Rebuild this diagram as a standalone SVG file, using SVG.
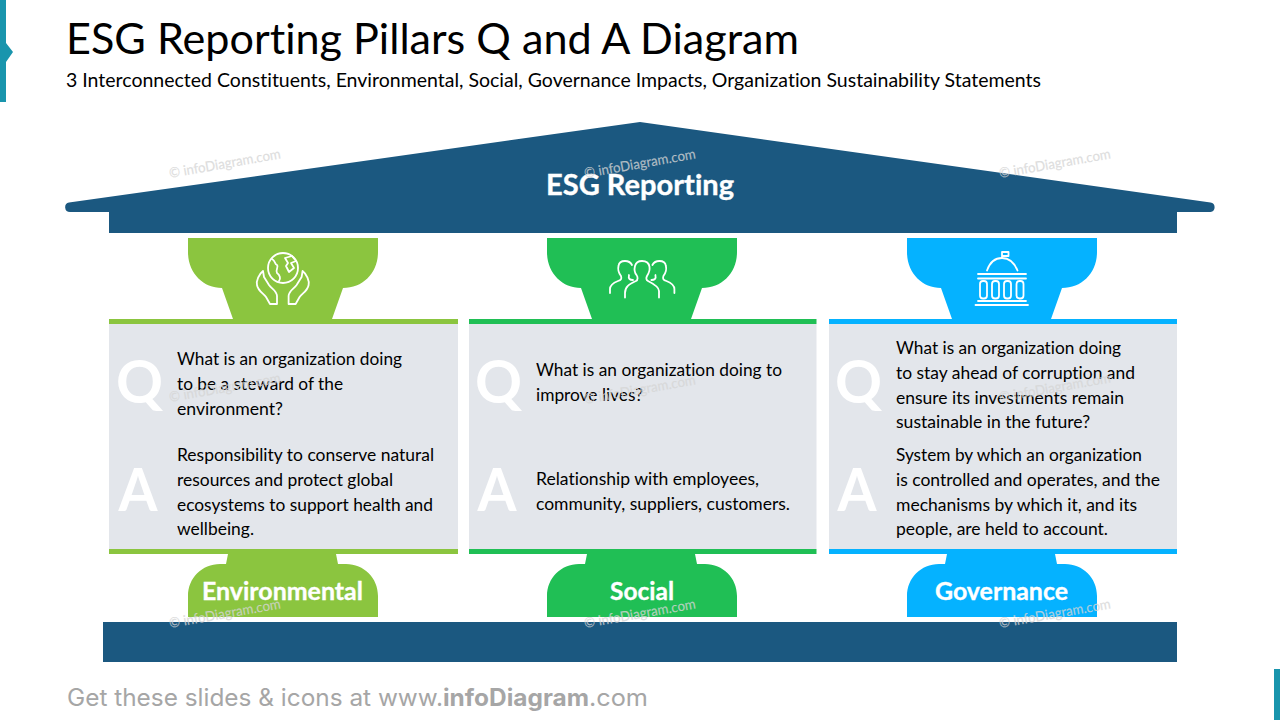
<svg xmlns="http://www.w3.org/2000/svg" width="1280" height="720" viewBox="0 0 1280 720">
<style>
text{font-family:"Lato","Liberation Sans",sans-serif;font-variant-ligatures:none}
.b{font-size:17px;fill:#000}
.l{font-size:60px;font-weight:700;fill:#fff}
.n{font-size:25px;font-weight:700;fill:#fff;stroke:#fff;stroke-width:.35}
.w{font-size:14px;fill:#d6d6d6;stroke:#d6d6d6;stroke-width:.15;opacity:.8}
.i{fill:none;stroke:#fff;stroke-width:1.8;stroke-linejoin:round;stroke-linecap:round}
.f{font-family:"Inter","Liberation Sans",sans-serif;font-size:24px;fill:#a6a6a6}
.g{fill:#8bc53f}.s{fill:#20bf55}.v{fill:#05b2ff}
.p{fill:#e3e6eb}
</style>
<defs>
<path id="cap" d="M188 238H378V252C378 273 363 288 343 288L332 319H233L222 288C203 288 188 273 188 252Z"/>
<path id="base" d="M228 554H336L338 564H346C364 564 378 578 378 596V617H188V596C188 578 202 564 220 564H226Z"/>
</defs>
<rect width="1280" height="720" fill="#fff"/>
<g id="accents" fill="#1995ad">
<path d="M0 0H6V43L13 52L6 62V102H0Z"/>
<rect x="1274" y="669" width="6" height="51"/>
</g>
<g id="title">
<text x="66" y="54" font-size="42" textLength="733" lengthAdjust="spacingAndGlyphs">ESG Reporting Pillars Q and A Diagram</text>
<text x="66" y="87" font-size="19" textLength="975" lengthAdjust="spacingAndGlyphs">3 Interconnected Constituents, Environmental, Social, Governance Impacts, Organization Sustainability Statements</text>
</g>
<g id="roof">
<path d="M640 122L1210.500 202.500A4.800 4.800 0 0 1 1210.500 212H1177V233H109V212H70A4.800 4.800 0 0 1 69 202.500Z" fill="#1b5880"/>
<text class="n" x="546" y="195" style="font-size:28px" textLength="188" lengthAdjust="spacingAndGlyphs">ESG Reporting</text>
</g>
<g id="foundation"><rect x="103" y="622" width="1074" height="40" fill="#1b5880"/></g>
<g id="pillar-environmental">
<use href="#cap" class="g"/>
<rect x="109" y="319" width="349" height="5" class="g"/>
<rect x="109" y="324" width="349" height="225" class="p"/>
<rect x="109" y="549" width="349" height="5" class="g"/>
<use href="#base" class="g"/>
<g class="i">
<circle cx="283" cy="268" r="15"/>
<path d="M272 259C276 261 274 264 277 265C279 267 275 270 277 273C280 275 281 279 279 281"/>
<path d="M285 258L292 256L296 261L291 263L294 268L289 272L286 266L288 263Z"/>
<path id="hand" d="M277 304V296C277 291 272 289 269 285L264 277L263 271C259 274 256 281 257 285C258 291 263 293 266 297L270 304Z"/>
<use href="#hand" transform="translate(565.600 0) scale(-1 1)"/>
</g>
<text x="116" y="403" class="l" textLength="47" lengthAdjust="spacingAndGlyphs">Q</text>
<text x="118.500" y="511" class="l" textLength="39" lengthAdjust="spacingAndGlyphs">A</text>
<text class="b" x="177" y="365" textLength="225" lengthAdjust="spacingAndGlyphs">What is an organization doing</text>
<text class="b" x="177" y="390" textLength="166" lengthAdjust="spacingAndGlyphs">to be a steward of the</text>
<text class="b" x="177" y="415" textLength="106" lengthAdjust="spacingAndGlyphs">environment?</text>
<text class="b" x="177" y="461" textLength="257" lengthAdjust="spacingAndGlyphs">Responsibility to conserve natural</text>
<text class="b" x="177" y="486" textLength="216" lengthAdjust="spacingAndGlyphs">resources and protect global</text>
<text class="b" x="177" y="511" textLength="256" lengthAdjust="spacingAndGlyphs">ecosystems to support health and</text>
<text class="b" x="177" y="535" textLength="77" lengthAdjust="spacingAndGlyphs">wellbeing.</text>
<text class="n" x="202" y="600" textLength="161" lengthAdjust="spacingAndGlyphs">Environmental</text>
</g>
<g id="pillar-social">
<use href="#cap" class="s" x="359"/>
<rect x="469" y="319" width="347.500" height="5" class="s"/>
<rect x="469" y="324" width="347.500" height="225" class="p"/>
<rect x="469" y="549" width="347.500" height="5" class="s"/>
<use href="#base" class="s" x="359"/>
<g class="i">
<path d="M625 297.500V293C625 286 630 284 636 281C638 280 638 277 636.500 275C634 272 634.500 268 635 266C636 262 639 261 642 261C646 261 649 263 649.500 267C650 270 649 273 647 276C646 278 646 280 648 281C654 284 659 287 659 291V297.500"/>
<path id="pl" d="M610 293V289C610 285 613 283 618 281C621 280 622 279 621 276C618 272 618 268 618.500 266C619 262 622 261 625 261C629 261 631 263 632 265M629 275C628 279 630 280 633 280"/>
<use href="#pl" transform="translate(1284.400 0) scale(-1 1)"/>
</g>
<text x="475" y="403" class="l" textLength="47" lengthAdjust="spacingAndGlyphs">Q</text>
<text x="477.500" y="511" class="l" textLength="39" lengthAdjust="spacingAndGlyphs">A</text>
<text class="b" x="536" y="376" textLength="246" lengthAdjust="spacingAndGlyphs">What is an organization doing to</text>
<text class="b" x="536" y="401" textLength="107" lengthAdjust="spacingAndGlyphs">improve lives?</text>
<text class="b" x="536" y="485" textLength="223" lengthAdjust="spacingAndGlyphs">Relationship with employees,</text>
<text class="b" x="536" y="510" textLength="254" lengthAdjust="spacingAndGlyphs">community, suppliers, customers.</text>
<text class="n" x="610" y="600" textLength="64" lengthAdjust="spacingAndGlyphs">Social</text>
</g>
<g id="pillar-governance">
<use href="#cap" class="v" x="719"/>
<rect x="829" y="319" width="348" height="5" class="v"/>
<rect x="829" y="324" width="348" height="225" class="p"/>
<rect x="829" y="549" width="348" height="5" class="v"/>
<use href="#base" class="v" x="719"/>
<g class="i">
<path d="M1002 258V252H1008.500V256H1002"/>
<path d="M987 270.500C990 262 996 258 1002 258C1008 258 1014 262 1017.500 270.500"/>
<path d="M978 274H1026M978 278.500H1026M978 301H1026M975.500 305H1028"/>
<rect x="980" y="281" width="7" height="17.500" rx="3"/>
<rect x="992" y="281" width="7" height="17.500" rx="3"/>
<rect x="1004" y="281" width="7" height="17.500" rx="3"/>
<rect x="1016.500" y="281" width="7" height="17.500" rx="3"/>
</g>
<text x="835" y="403" class="l" textLength="47" lengthAdjust="spacingAndGlyphs">Q</text>
<text x="837.500" y="511" class="l" textLength="39" lengthAdjust="spacingAndGlyphs">A</text>
<text class="b" x="896" y="354" textLength="225" lengthAdjust="spacingAndGlyphs">What is an organization doing</text>
<text class="b" x="896" y="379" textLength="239" lengthAdjust="spacingAndGlyphs">to stay ahead of corruption and</text>
<text class="b" x="896" y="404" textLength="228" lengthAdjust="spacingAndGlyphs">ensure its investments remain</text>
<text class="b" x="896" y="428" textLength="194" lengthAdjust="spacingAndGlyphs">sustainable in the future?</text>
<text class="b" x="896" y="461" textLength="246" lengthAdjust="spacingAndGlyphs">System by which an organization</text>
<text class="b" x="896" y="486" textLength="264" lengthAdjust="spacingAndGlyphs">is controlled and operates, and the</text>
<text class="b" x="896" y="511" textLength="241" lengthAdjust="spacingAndGlyphs">mechanisms by which it, and its</text>
<text class="b" x="896" y="535" textLength="212" lengthAdjust="spacingAndGlyphs">people, are held to account.</text>
<text class="n" x="935" y="600" textLength="133" lengthAdjust="spacingAndGlyphs">Governance</text>
</g>
<g id="watermarks">
<text class="w" transform="translate(170 178) rotate(-10)" textLength="113" lengthAdjust="spacingAndGlyphs">© infoDiagram.com</text>
<text class="w" transform="translate(585 178) rotate(-10)" textLength="113" lengthAdjust="spacingAndGlyphs">© infoDiagram.com</text>
<text class="w" transform="translate(1000 178) rotate(-10)" textLength="113" lengthAdjust="spacingAndGlyphs">© infoDiagram.com</text>
<text class="w" transform="translate(170 402) rotate(-10)" textLength="113" lengthAdjust="spacingAndGlyphs">© infoDiagram.com</text>
<text class="w" transform="translate(585 404) rotate(-10)" textLength="113" lengthAdjust="spacingAndGlyphs">© infoDiagram.com</text>
<text class="w" transform="translate(1000 402) rotate(-10)" textLength="113" lengthAdjust="spacingAndGlyphs">© infoDiagram.com</text>
<text class="w" transform="translate(170 628) rotate(-10)" textLength="113" lengthAdjust="spacingAndGlyphs">© infoDiagram.com</text>
<text class="w" transform="translate(585 628) rotate(-10)" textLength="113" lengthAdjust="spacingAndGlyphs">© infoDiagram.com</text>
<text class="w" transform="translate(1000 628) rotate(-10)" textLength="113" lengthAdjust="spacingAndGlyphs">© infoDiagram.com</text>
</g>
<g id="footer">
<text class="f" x="67" y="706" textLength="376" lengthAdjust="spacingAndGlyphs">Get these slides &amp; icons at www.</text>
<text class="f" x="443" y="706" font-weight="700" textLength="146" lengthAdjust="spacingAndGlyphs">infoDiagram</text>
<text class="f" x="589" y="706" textLength="59" lengthAdjust="spacingAndGlyphs">.com</text>
</g>
</svg>
